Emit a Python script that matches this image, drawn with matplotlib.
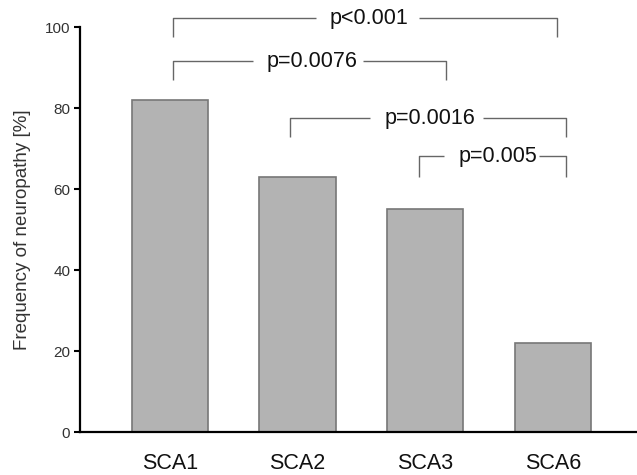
import matplotlib
matplotlib.use("Agg")
import matplotlib.pyplot as plt

plt.rcParams['font.family'] = ['Liberation Sans', 'DejaVu Sans']

# neuropathy frequency per SCA subtype
groups = ['SCA1', 'SCA2', 'SCA3', 'SCA6']
freq = [82, 63, 55, 22]

# significance brackets: left x, right x, bar height, drop height, label, label x, gap start, gap end
brackets = [
    (0.02, 3.03, 102.2, 97.5, 'p<0.001', 1.56, 1.14, 1.95),
    (0.02, 2.16, 91.6, 86.9, 'p=0.0076', 1.11, 0.65, 1.51),
    (0.94, 3.10, 77.5, 72.8, 'p=0.0016', 2.04, 1.57, 2.45),
    (1.95, 3.10, 68.1, 63.0, 'p=0.005', 2.57, 2.15, 2.89),
]

fig = plt.figure(figsize=(6.37, 4.75), dpi=100)
ax = fig.add_axes([0.1256, 0.0905, 0.8744, 0.8526])

x = range(len(groups))
ax.bar(x, freq, width=0.6, color='#b3b3b3', edgecolor='#777777', linewidth=1.2, zorder=2)

for x1, x2, ytop, ydrop, label, tx, g1, g2 in brackets:
    kw = dict(color='#666666', lw=1.0, clip_on=False, solid_capstyle='butt')
    ax.plot([x1, x1, g1], [ydrop, ytop, ytop], **kw)
    ax.plot([g2, x2, x2], [ytop, ytop, ydrop], **kw)
    ax.text(tx, ytop, label, ha='center', va='center', fontsize=15.5, color='#111111')

ax.set_xlim(-0.706, 3.66)
ax.set_ylim(0, 100)
ax.set_yticks([0, 20, 40, 60, 80, 100])
ax.set_xticks(list(x))
ax.set_xticklabels(groups, fontsize=15.5, color='#111111')
ax.tick_params(axis='x', length=0, pad=15)
ax.tick_params(axis='y', length=4, width=1.5, labelsize=11, labelcolor='#333333', pad=3)

ax.spines['top'].set_visible(False)
ax.spines['right'].set_visible(False)
ax.spines['left'].set_linewidth(1.6)
ax.spines['bottom'].set_linewidth(1.6)

ax.set_ylabel('Frequency of neuropathy [%]', fontsize=13.5, color='#333333', labelpad=10)

fig.savefig('out.png', dpi=100)
